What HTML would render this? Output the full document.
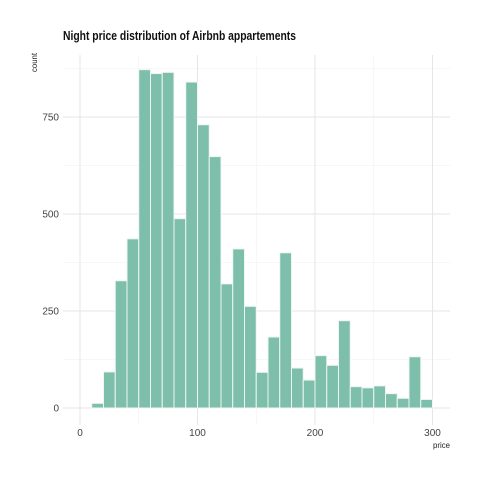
<!DOCTYPE html>
<html><head><meta charset="utf-8"><style>
html,body{margin:0;padding:0;background:#fff;}
svg text{font-family:"Liberation Sans Narrow","Liberation Sans",sans-serif;}
</style></head><body>
<svg width="480" height="480" xmlns="http://www.w3.org/2000/svg">
<text x="63" y="40" font-size="13" font-weight="bold" fill="#111" textLength="233" lengthAdjust="spacingAndGlyphs">Night price distribution of Airbnb appartements</text>
<text transform="translate(37,72) rotate(-90)" font-size="8" fill="#222" textLength="19" lengthAdjust="spacingAndGlyphs">count</text>
<text x="450" y="448" font-size="8" fill="#222" text-anchor="end" textLength="17" lengthAdjust="spacingAndGlyphs">price</text>
<g id="grid"></g><g id="bars"></g><g id="ticks"></g>
</svg>
<script>
const binStarts=[10,20,30,40,50,60,70,80,90,100,110,120,130,140,150,160,170,180,190,200,210,220,230,240,250,260,270,280,290];
const counts=[12,93,328,436,872,862,865,488,840,730,648,320,410,262,92,183,400,103,72,135,110,225,55,52,57,37,25,132,22];
const xTicks=[0,100,200,300];
const yTicks=[0,250,500,750];
const binWidth=10;
const NS='http://www.w3.org/2000/svg';
const X=v=>80+v*1.175;
const Y=v=>408-v*0.388;
const L=63,R=450,T=55,B=425;
function mk(t,a,p){const e=document.createElementNS(NS,t);for(const k in a)e.setAttribute(k,a[k]);p.appendChild(e);return e;}
const grid=document.getElementById('grid'),bars=document.getElementById('bars'),ticks=document.getElementById('ticks');
[50,150,250].forEach(v=>{const l=mk('line',{x1:X(v),x2:X(v),y1:T,y2:B,stroke:'#f0f0f0','stroke-width':0.6},grid);

});
[125,375,625,875].forEach(v=>{const l=mk('line',{x1:L,x2:R,y1:Y(v),y2:Y(v),stroke:'#f0f0f0','stroke-width':0.6},grid);

});
xTicks.forEach(v=>{const l=mk('line',{x1:X(v),x2:X(v),y1:T,y2:B,stroke:'#e6e6e6','stroke-width':1},grid);


const t=mk('text',{x:X(v),y:436,'font-size':10,fill:'#444','text-anchor':'middle'},ticks);t.textContent=v;

});
yTicks.forEach(v=>{const l=mk('line',{x1:L,x2:R,y1:Y(v),y2:Y(v),stroke:'#e6e6e6','stroke-width':1},grid);


const t=mk('text',{x:59,y:Y(v)+3.5,'font-size':10,fill:'#444','text-anchor':'end'},ticks);t.textContent=v;

});
binStarts.forEach((s,i)=>{const r=mk('rect',{x:X(s),y:Y(counts[i]),width:X(s+binWidth)-X(s),height:Y(0)-Y(counts[i]),fill:'#7dbfab',stroke:'#eef5f2','stroke-width':1},bars);

});
</script>
</body></html>
